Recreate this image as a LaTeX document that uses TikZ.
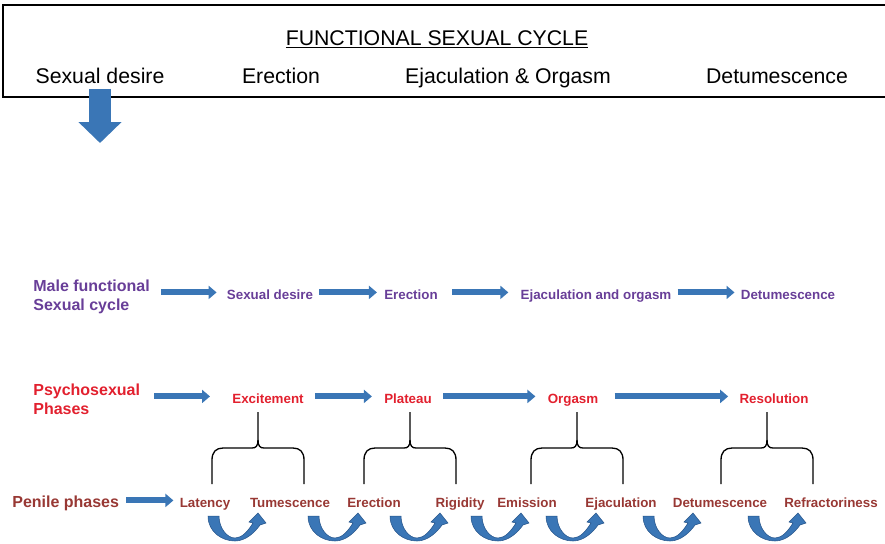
\documentclass[tikz,border=0pt]{standalone}
\usepackage{fontspec}
\setmainfont{Liberation Sans}
\usetikzlibrary{arrows.meta}
\definecolor{flowblue}{RGB}{58,118,182}
\definecolor{flowedge}{RGB}{38,84,138}
\definecolor{cyclepurple}{RGB}{104,62,152}
\definecolor{psychred}{RGB}{226,32,46}
\definecolor{penilebrown}{RGB}{152,56,52}

\begin{document}
\begin{tikzpicture}[x=.2mm,y=-.2mm,
  boxtext/.style={font=\fontsize{12.1}{14}\selectfont,inner sep=0pt,anchor=base},
  rowlabel/.style={font=\bfseries\fontsize{9.1}{10.4}\selectfont,align=left,inner sep=0pt},
  item/.style={font=\bfseries\fontsize{7.6}{9}\selectfont,inner sep=0pt,anchor=base,text height=7.5pt,text depth=0pt},
  flow/.style={flowblue,line width=1.2mm,-{Triangle[length=1.6mm 0,width=2.6mm 0]}},
  bigflow/.style={flowblue,line width=4.4mm,-{Triangle[length=4.2mm 0,width=8.4mm 0]}},
  phasebrace/.pic={
    \draw[line width=.75pt] (-46,72) -- (-46,48) .. controls (-46,40) and (-42,36) .. (-35,36)
      -- (-6,36) .. controls (-2,36) and (0,34) .. (0,28) -- (0,0);
    \draw[line width=.75pt] (0,28) .. controls (0,34) and (2,36) .. (6,36)
      -- (35,36) .. controls (42,36) and (46,40) .. (46,48) -- (46,72);
  },
  turnarrow/.pic={
    \filldraw[fill=flowblue,draw=flowedge,line width=.3pt] (0,0)
      .. controls (0,16) and (14,25) .. (27,25)
      .. controls (38,25) and (47,16) .. (52,9) -- (58,7) -- (50,-3) -- (41,6) -- (45,7)
      .. controls (40,15) and (34,22) .. (27,22)
      .. controls (19,22) and (11,12) .. (11,0) -- cycle;
  }]
\useasboundingbox (0,0) rectangle (885,543);
\clip (0,0) rectangle (885,543);

\draw[line width=.5mm] (3,5) rectangle (900,97);
\node[boxtext] (cycTitle) at (437,45) {\underline{FUNCTIONAL SEXUAL CYCLE}};
\node[boxtext] (cycDesire) at (100,83) {Sexual desire};
\node[boxtext] (cycErection) at (281,83) {Erection};
\node[boxtext] (cycOrgasm) at (508,83) {Ejaculation \& Orgasm};
\node[boxtext] (cycDetum) at (777,83) {Detumescence};
\coordinate (desireTip) at (100,143);
\draw[bigflow,shorten <=1mm] (cycDesire.south) -- (desireTip);

\node[rowlabel,cyclepurple,anchor=north west] (maleLab) at (33,280) {Male functional\\Sexual cycle};
\node[item,cyclepurple] (maleDesire) at (270,299) {Sexual desire};
\node[item,cyclepurple] (maleErection) at (411,299) {Erection};
\node[item,cyclepurple] (maleEjac) at (596,299) {Ejaculation and orgasm};
\node[item,cyclepurple] (maleDetum) at (788,299) {Detumescence};
\draw[flow,shorten <=2.2mm,shorten >=2mm] (maleLab.east |- maleDesire.west) -- (maleDesire.west);
\draw[flow,shorten <=1.2mm,shorten >=1.4mm] (maleDesire) -- (maleErection);
\draw[flow,shorten <=2.8mm,shorten >=2.4mm] (maleErection) -- (maleEjac);
\draw[flow,shorten <=1.2mm,shorten >=1.2mm] (maleEjac) -- (maleDetum);

\node[rowlabel,psychred,anchor=north west] (psyLab) at (33,384) {Psychosexual\\Phases};
\node[item,psychred] (psyExc) at (268,403) {Excitement};
\node[item,psychred] (psyPlat) at (408,403) {Plateau};
\node[item,psychred] (psyOrg) at (573,403) {Orgasm};
\node[item,psychred] (psyRes) at (774,403) {Resolution};
\draw[flow,shorten <=2.8mm,shorten >=4.4mm] (psyLab.east |- psyExc.west) -- (psyExc.west);
\draw[flow,shorten <=2.2mm,shorten >=2.4mm] (psyExc) -- (psyPlat);
\draw[flow,shorten <=2.2mm,shorten >=2.4mm] (psyPlat) -- (psyOrg);
\draw[flow,shorten <=3.2mm,shorten >=2.2mm] (psyOrg) -- (psyRes);

\pic at (258,412) {phasebrace};
\pic at (410,412) {phasebrace};
\pic at (577,412) {phasebrace};
\pic at (767,412) {phasebrace};

\node[rowlabel,penilebrown,anchor=base west] (penLab) at (12,507) {Penile phases};
\node[item,penilebrown] (penLat) at (205,507) {Latency};
\node[item,penilebrown] (penTum) at (290,507) {Tumescence};
\node[item,penilebrown] (penEre) at (374,507) {Erection};
\node[item,penilebrown] (penRig) at (460,507) {Rigidity};
\node[item,penilebrown] (penEmi) at (527,507) {Emission};
\node[item,penilebrown] (penEja) at (621,507) {Ejaculation};
\node[item,penilebrown] (penDet) at (720,507) {Detumescence};
\node[item,penilebrown] (penRef) at (831,507) {Refractoriness};
\draw[flow,shorten <=1.4mm,shorten >=1.2mm] (penLab.east |- penLat.west) -- (penLat.west);

\pic at (208,516) {turnarrow};
\pic at (308,516) {turnarrow};
\pic at (390,516) {turnarrow};
\pic at (471,516) {turnarrow};
\pic at (546,516) {turnarrow};
\pic at (643,516) {turnarrow};
\pic at (748,516) {turnarrow};
\end{tikzpicture}
\end{document}
